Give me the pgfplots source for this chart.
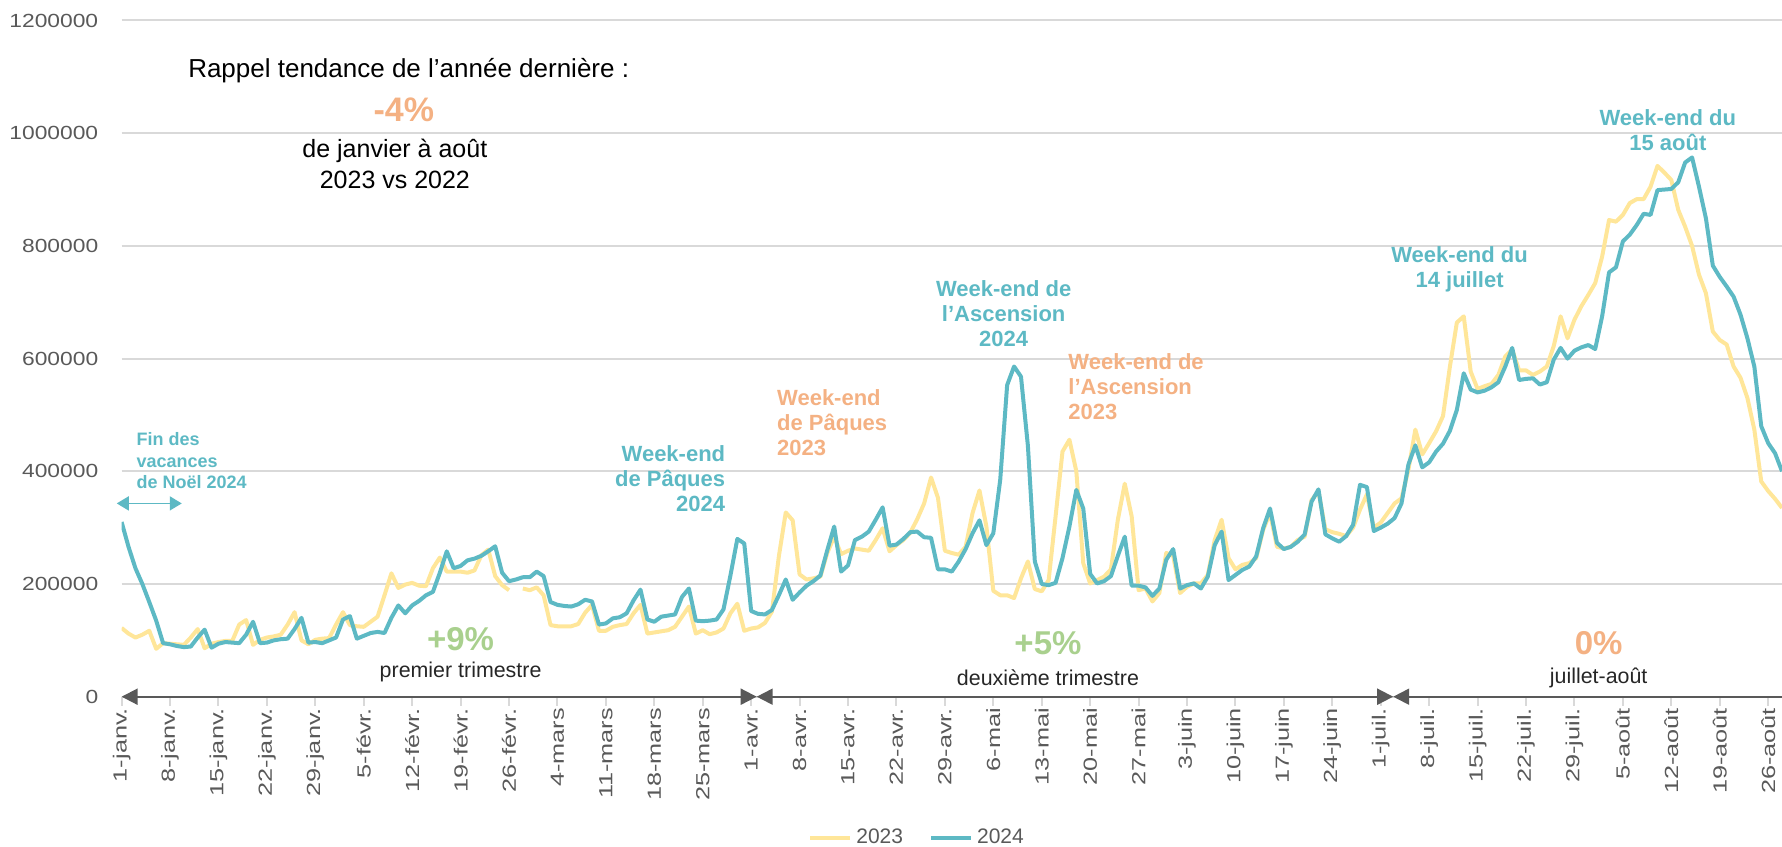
\documentclass[border=0pt]{standalone}
\usepackage{fontspec}
\setmainfont{Liberation Sans}
\usepackage{graphicx}
\usepackage{pgfplots}
\usepackage{pgfplotstable}
\pgfplotsset{compat=1.18}
\usetikzlibrary{arrows.meta}

\definecolor{jaune}{HTML}{FFE699}
\definecolor{bleu}{HTML}{5DB9C4}
\definecolor{saumon}{HTML}{F4B183}
\definecolor{vert}{HTML}{A9D08E}
\definecolor{grille}{HTML}{D9D9D9}
\definecolor{gristxt}{HTML}{595959}

\newcommand\xl[1]{\scalebox{1.33}[1]{#1}}

% jour (0 = 1er janvier), 2023, 2024
\pgfplotstableread{
day y23 y24
0 122000 310000
1 112000 266000
2 105000 228000
3 110000 200000
4 117000 168000
5 85000 135000
6 95000 95000
7 94000 93000
8 93000 90000
9 92000 88000
10 105000 89000
11 120000 105000
12 86000 119000
13 94000 87000
14 97000 94000
15 99000 97000
16 99000 96000
17 128000 95000
18 136000 110000
19 92000 133000
20 101000 95000
21 105000 96000
22 107000 100000
23 110000 102000
24 128000 103000
25 150000 120000
26 100000 140000
27 93000 96000
28 101000 97000
29 103000 95000
30 104000 100000
31 128000 105000
32 150000 137000
33 127000 143000
34 125000 103000
35 124000 108000
36 133000 113000
37 142000 115000
38 180000 113000
39 219000 140000
40 193000 162000
41 199000 148000
42 202000 162000
43 197000 170000
44 196000 180000
45 228000 186000
46 247000 220000
47 222000 258000
48 222000 228000
49 222000 232000
50 220000 242000
51 224000 245000
52 251000 250000
53 261000 258000
54 214000 267000
55 198000 220000
56 189000 205000
57 nan 208000
58 192000 212000
59 189000 212000
60 194000 222000
61 180000 214000
62 127000 168000
63 125000 163000
64 125000 161000
65 125000 160000
66 129000 164000
67 149000 172000
68 163000 169000
69 117000 128000
70 117000 130000
71 124000 139000
72 127000 141000
73 129000 148000
74 148000 171000
75 163000 190000
76 112000 137000
77 114000 133000
78 116000 142000
79 118000 144000
80 124000 146000
81 142000 177000
82 160000 192000
83 112000 135000
84 118000 134000
85 111000 135000
86 114000 137000
87 121000 155000
88 148000 215000
89 165000 280000
90 117000 272000
91 121000 152000
92 123000 147000
93 131000 146000
94 151000 154000
95 249000 180000
96 327000 208000
97 313000 172000
98 217000 185000
99 208000 197000
100 210000 205000
101 213000 215000
102 255000 260000
103 284000 302000
104 253000 222000
105 259000 233000
106 263000 278000
107 261000 284000
108 259000 293000
109 278000 314000
110 299000 336000
111 258000 268000
112 269000 270000
113 278000 280000
114 291000 292000
115 315000 293000
116 343000 283000
117 389000 282000
118 353000 226000
119 259000 226000
120 255000 222000
121 252000 240000
122 266000 262000
123 326000 290000
124 366000 313000
125 302000 269000
126 188000 290000
127 180000 385000
128 180000 553000
129 175000 586000
130 210000 568000
131 240000 445000
132 191000 240000
133 187000 200000
134 207000 198000
135 320000 202000
136 435000 246000
137 456000 302000
138 400000 367000
139 237000 334000
140 201000 218000
141 207000 201000
142 213000 205000
143 226000 214000
144 314000 250000
145 378000 284000
146 320000 197000
147 189000 197000
148 192000 194000
149 169000 179000
150 184000 192000
151 255000 243000
152 250000 262000
153 184000 192000
154 195000 198000
155 201000 201000
156 201000 192000
157 216000 213000
158 278000 269000
159 314000 293000
160 246000 207000
161 226000 216000
162 234000 225000
163 237000 231000
164 246000 249000
165 296000 299000
166 326000 334000
167 266000 273000
168 263000 262000
169 266000 266000
170 278000 275000
171 284000 288000
172 349000 346000
173 364000 368000
174 297000 288000
175 292000 281000
176 289000 275000
177 285000 285000
178 300000 305000
179 332000 376000
180 359000 372000
181 300000 294000
182 309000 300000
183 326000 307000
184 343000 317000
185 352000 343000
186 403000 412000
187 474000 446000
188 430000 407000
189 450000 416000
190 471000 435000
191 498000 449000
192 586000 472000
193 664000 509000
194 675000 574000
195 577000 545000
196 546000 540000
197 551000 543000
198 555000 549000
199 571000 558000
200 604000 586000
201 616000 619000
202 579000 562000
203 579000 564000
204 571000 565000
205 577000 554000
206 586000 558000
207 622000 598000
208 675000 619000
209 636000 600000
210 669000 614000
211 693000 620000
212 713000 624000
213 734000 617000
214 781000 675000
215 846000 753000
216 843000 762000
217 855000 808000
218 876000 820000
219 883000 837000
220 883000 857000
221 905000 855000
222 942000 899000
223 930000 900000
224 917000 901000
225 864000 913000
226 834000 948000
227 800000 957000
228 749000 905000
229 716000 849000
230 648000 765000
231 633000 745000
232 625000 728000
233 586000 710000
234 566000 678000
235 530000 636000
236 474000 586000
237 382000 480000
238 365000 450000
239 351000 432000
240 335000 400000
}\data

\begin{document}
\begin{tikzpicture}
\begin{axis}[
    width=830.2pt, height=338.1pt, scale only axis,
    xmin=0, xmax=240, ymin=0, ymax=1200000,
    clip mode=individual,
    unbounded coords=jump,
    axis lines*=left,
    axis line style={draw=none,-},
    ymajorgrids, grid style={grille, line width=1pt},
    xtick={0,7,...,238},
    xticklabels={\xl{1-janv.},\xl{8-janv.},\xl{15-janv.},\xl{22-janv.},\xl{29-janv.},
      \xl{5-févr.},\xl{12-févr.},\xl{19-févr.},\xl{26-févr.},\xl{4-mars},\xl{11-mars},
      \xl{18-mars},\xl{25-mars},\xl{1-avr.},\xl{8-avr.},\xl{15-avr.},\xl{22-avr.},
      \xl{29-avr.},\xl{6-mai},\xl{13-mai},\xl{20-mai},\xl{27-mai},\xl{3-juin},
      \xl{10-juin},\xl{17-juin},\xl{24-juin},\xl{1-juil.},\xl{8-juil.},\xl{15-juil.},
      \xl{22-juil.},\xl{29-juil.},\xl{5-août},\xl{12-août},\xl{19-août},\xl{26-août}},
    ytick={0,200000,...,1200000},
    scaled y ticks=false,
    /pgf/number format/assume math mode=true,
    yticklabel={\scalebox{1.2}[1]{\pgfmathprintnumber[fixed,precision=0,1000 sep={}]{\tick}}},
    tick align=outside,
    major tick length=4.5pt,
    xtick style={draw=grille, line width=1pt},
    ytick style={draw=none},
    xticklabel style={rotate=90, anchor=east, inner sep=0pt, text=gristxt,
      font=\fontsize{9.5}{10}\selectfont},
    xticklabel shift=1pt,
    yticklabel style={anchor=east, inner sep=0pt, text=gristxt,
      font=\fontsize{9.5}{10}\selectfont},
    yticklabel shift=7pt,
    legend style={at={(0.4797,-0.2084)}, anchor=center, draw=none, fill=none,
      legend columns=2, font=\fontsize{10.5}{12}\selectfont, text=gristxt,
      /tikz/every even column/.append style={column sep=11pt}},
    legend image code/.code={\draw[#1] (0pt,0pt) -- (20pt,0pt);},
]
\addplot[jaune, line width=2pt, line join=round] table[x=day, y=y23]{\data};
\addplot[bleu, line width=2pt, line join=round] table[x=day, y=y24]{\data};
\legend{2023, 2024}

% fleches des periodes
\draw[gristxt, line width=1pt, {Triangle[length=8pt,width=8pt]}-{Triangle[length=8pt,width=8pt]}]
  (axis cs:0,0) -- (axis cs:91.8,0);
\draw[gristxt, line width=1pt, {Triangle[length=8pt,width=8pt]}-{Triangle[length=8pt,width=8pt]}]
  (axis cs:91.8,0) -- (axis cs:183.8,0);
\draw[gristxt, line width=1pt, {Triangle[length=8pt,width=8pt]}-]
  (axis cs:183.8,0) -- (axis cs:240,0);

% encadre rappel
\node[font=\fontsize{13}{15}\selectfont] at (axis cs:41.5,1111000) {Rappel tendance de l’année dernière :};
\node[saumon, font=\bfseries\fontsize{17}{20}\selectfont] at (axis cs:40.8,1042000) {-4\%};
\node[align=center, font=\fontsize{12.5}{15.3}\selectfont] at (axis cs:39.5,946000) {de janvier à août\\2023 vs 2022};

% vacances de Noel
\node[bleu, anchor=west, align=left, inner sep=0pt, font=\bfseries\fontsize{9}{10.8}\selectfont]
  at (axis cs:2.1,419000) {Fin des\\vacances\\de Noël 2024};
\draw[bleu, line width=0.8pt, {Triangle[length=6pt,width=7pt]}-{Triangle[length=6pt,width=7pt]}]
  (axis cs:-0.7,343000) -- (axis cs:8.7,343000);

% annotations
\node[bleu, anchor=east, align=right, inner sep=0pt, font=\bfseries\fontsize{11}{12.5}\selectfont]
  at (axis cs:87.3,387000) {Week-end\\de Pâques\\2024};
\node[saumon, anchor=west, align=left, inner sep=0pt, font=\bfseries\fontsize{11}{12.5}\selectfont]
  at (axis cs:94.7,486000) {Week-end\\de Pâques\\2023};
\node[bleu, align=center, inner sep=0pt, font=\bfseries\fontsize{11}{12.5}\selectfont]
  at (axis cs:127.5,679000) {Week-end de\\l’Ascension\\2024};
\node[saumon, anchor=west, align=left, inner sep=0pt, font=\bfseries\fontsize{11}{12.5}\selectfont]
  at (axis cs:136.8,550000) {Week-end de\\l’Ascension\\2023};
\node[bleu, align=center, inner sep=0pt, font=\bfseries\fontsize{11}{12.5}\selectfont]
  at (axis cs:193.4,758000) {Week-end du\\14 juillet};
\node[bleu, align=center, inner sep=0pt, font=\bfseries\fontsize{11}{12.5}\selectfont]
  at (axis cs:223.5,1005000) {Week-end du\\15 août};

% evolutions par periode
\node[vert, font=\bfseries\fontsize{16.5}{18}\selectfont] at (axis cs:49,103000) {+9\%};
\node[text=black!85, font=\fontsize{10.7}{12}\selectfont] at (axis cs:49,44000) {premier trimestre};
\node[vert, font=\bfseries\fontsize{16.5}{18}\selectfont] at (axis cs:133.9,95000) {+5\%};
\node[text=black!85, font=\fontsize{10.7}{12}\selectfont] at (axis cs:133.9,34000) {deuxième trimestre};
\node[saumon, font=\bfseries\fontsize{16.5}{18}\selectfont] at (axis cs:213.5,95000) {0\%};
\node[text=black!85, font=\fontsize{10.7}{12}\selectfont] at (axis cs:213.5,34000) {juillet-août};
\end{axis}
\pgfresetboundingbox
\path[use as bounding box] (-60.8pt,-74.65pt) rectangle (830.2pt,348.35pt);
\end{tikzpicture}
\end{document}
